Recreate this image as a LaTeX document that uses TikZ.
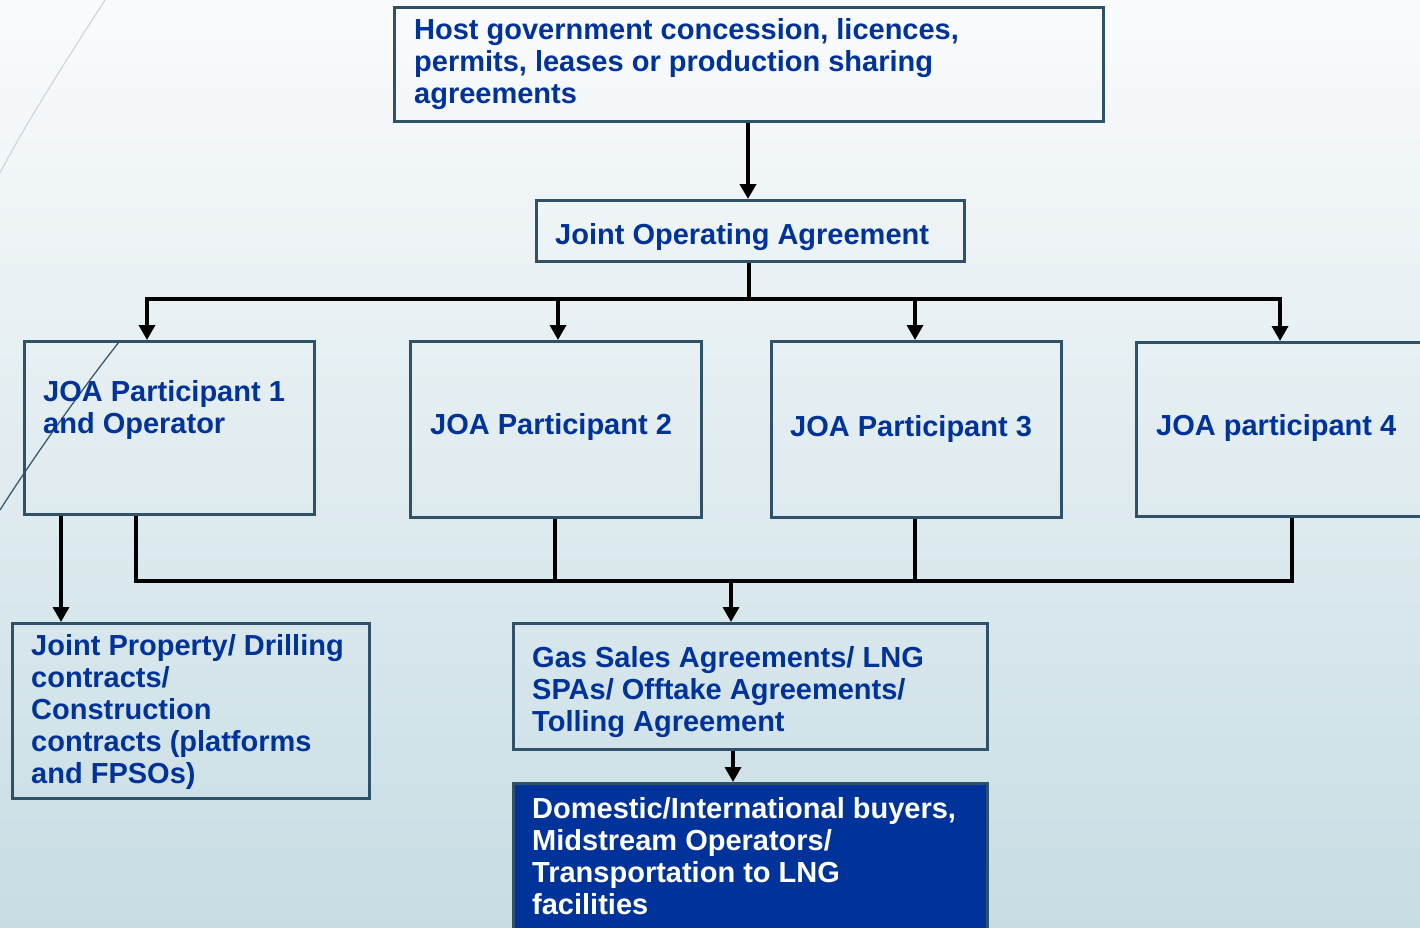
\documentclass[tikz,border=0pt]{standalone}
\usepackage{fontspec}
\setmainfont{Liberation Sans}
\usetikzlibrary{arrows.meta}
\definecolor{txtblue}{RGB}{0,51,153}
\definecolor{boxline}{RGB}{47,82,104}
\definecolor{bgtop}{RGB}{250,251,252}
\definecolor{bgbot}{RGB}{199,221,228}
\definecolor{deco}{RGB}{60,90,110}
\definecolor{decolight}{RGB}{200,210,216}
\tikzset{
  box/.style={draw=boxline, line width=3pt, rectangle, inner sep=0pt, anchor=north west},
  darkbox/.style={box, fill=txtblue},
  lbl/.style={anchor=base west, inner sep=0pt, align=left, text=txtblue,
    font=\fontsize{29}{32}\selectfont\bfseries},
  wlbl/.style={lbl, text=white},
  conn/.style={draw=black, line width=3.4pt},
  arr/.style={conn, -{Triangle[width=16pt,length=15pt]}},
}
\begin{document}
\begin{tikzpicture}[x=1pt,y=-1pt]
\useasboundingbox (0,0) rectangle (1420,927);
\clip (0,0) rectangle (1420,927);
\shade[top color=bgtop, bottom color=bgbot] (0,0) rectangle (1420,927);
% decorative template curves
\draw[decolight, line width=1pt] (105,0) .. controls (60,70) and (25,125) .. (0,173);
\draw[deco, line width=1.3pt] (119,342) .. controls (85,385) and (35,455) .. (0,510);

% boxes
\node[box, minimum width=709pt, minimum height=114pt] (host) at (393,6) {};
\node[box, minimum width=428pt, minimum height=61pt] (joa) at (535,199) {};
\node[box, minimum width=290pt, minimum height=173pt] (p1) at (23,340) {};
\node[box, minimum width=291pt, minimum height=176pt] (p2) at (409,340) {};
\node[box, minimum width=290pt, minimum height=176pt] (p3) at (770,340) {};
\node[box, minimum width=295pt, minimum height=174pt] (p4) at (1135,341) {};
\node[box, minimum width=357pt, minimum height=175pt] (jp) at (11,622) {};
\node[box, minimum width=474pt, minimum height=126pt] (gas) at (512,622) {};
\node[darkbox, minimum width=474pt, minimum height=160pt] (dom) at (512,782) {};

% labels (anchor base = baseline of the last line)
\node[lbl] (hostT) at (414,103.5) {Host government concession, licences,\\permits, leases or production sharing\\agreements};
\node[lbl] (joaT) at (555,244.5) {Joint Operating Agreement};
\node[lbl] (p1T) at (43,433.5) {JOA Participant 1\\and Operator};
\node[lbl] (p2T) at (430,434.5) {JOA Participant 2};
\node[lbl] (p3T) at (790,436.5) {JOA Participant 3};
\node[lbl] (p4T) at (1156,435) {JOA participant 4};
\node[lbl] (jpT) at (31,783) {Joint Property/ Drilling\\contracts/\\Construction\\contracts (platforms\\and FPSOs)};
\node[lbl] (gasT) at (532,731) {Gas Sales Agreements/ LNG\\SPAs/ Offtake Agreements/\\Tolling Agreement};
\node[wlbl] (domT) at (532,914) {Domestic/International buyers,\\Midstream Operators/\\Transportation to LNG\\facilities};

% top connectors
\coordinate (hx) at (748,0);
\draw[arr, line width=4.5pt] (hx |- host.south) -- (hx |- joa.north);
\coordinate (busL) at (147,299);
\coordinate (busR) at (1280,299);
\coordinate (b2) at (558,299);
\coordinate (b3) at (915,299);
\coordinate (jx) at (749,0);
\draw[conn, line width=4.5pt] (jx |- joa.south) -- (jx |- busL);
\draw[conn, line cap=rect] (busL) -- (busR);
\draw[arr] (busL) -- (busL |- p1.north);
\draw[arr] (b2) -- (b2 |- p2.north);
\draw[arr] (b3) -- (b3 |- p3.north);
\draw[arr] (busR) -- (busR |- p4.north);

% bottom connectors
\coordinate (c1) at (136,581);
\coordinate (c2) at (555,581);
\coordinate (c3) at (915,581);
\coordinate (c4) at (1292,581);
\coordinate (cg) at (731,581);
\draw[conn] (c1 |- p1.south) -- (c1) -- (c4) -- (c4 |- p4.south);
\draw[conn] (c2 |- p2.south) -- (c2);
\draw[conn] (c3 |- p3.south) -- (c3);
\draw[arr] (cg) -- (cg |- gas.north);
\coordinate (jx1) at (61,0);
\draw[arr] (jx1 |- p1.south) -- (jx1 |- jp.north);
\coordinate (gx) at (733,0);
\draw[arr] (gx |- gas.south) -- (gx |- dom.north);
\end{tikzpicture}
\end{document}
